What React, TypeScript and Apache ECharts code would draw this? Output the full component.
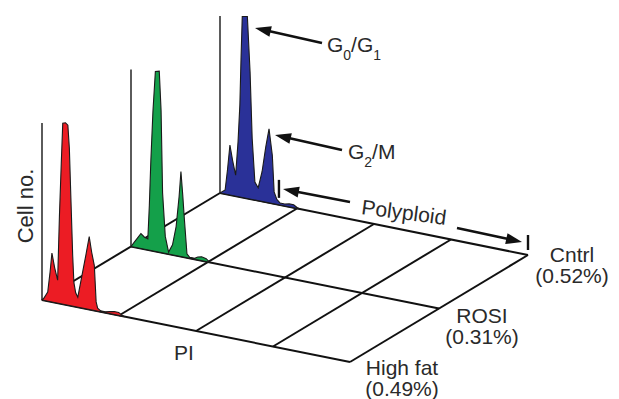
import { useEffect, useRef } from "react";
import * as echarts from "echarts";

// ---- data ----
const PI_MAX = 1024;
const PI_GRID = [0, 256, 512, 768, 1024];
const COUNT_MAX = 180;
const AXIS_TOP = 177;
const SAMPLE_NAMES = ["High fat", "ROSI", "Cntrl"];
const SAMPLE_PCT = ["(0.49%)", "(0.31%)", "(0.52%)"];
const SAMPLE_COLORS = ["#ec1c24", "#14a04a", "#2a3198"];
const POLY_GATE = [196, 1024];

// [PI channel, cell count]
const highFat: [number, number][] = [
  [0, 0], [6, 2], [19, 9], [27, 30], [33, 49], [42, 35], [52, 23], [58, 88], [64, 140],
  [69, 181], [78, 182], [86, 180], [91, 157], [96, 108], [102, 51], [106, 24], [112, 14],
  [119, 10], [135, 36], [146, 54], [157, 73], [165, 58], [174, 45], [180, 9], [185, 3],
  [195, 1], [210, 1], [225, 2], [240, 3], [255, 3], [265, 1], [275, 0],
];
const rosi: [number, number][] = [
  [0, 0], [11, 5], [22, 10], [33, 15], [45, 12], [56, 11], [61, 45], [66, 90], [73, 140],
  [81, 180], [94, 181], [100, 142], [105, 60], [114, 17], [125, 2], [138, 10], [150, 29],
  [160, 60], [166, 85], [172, 62], [177, 40], [186, 4], [195, 1], [212, 1], [222, 3],
  [235, 4], [250, 3], [262, 0],
];
const cntrl: [number, number][] = [
  [0, 0], [17, 4], [25, 25], [33, 50], [42, 35], [52, 21], [60, 55], [66, 92], [70, 140],
  [74, 181], [91, 182], [100, 127], [107, 61], [116, 18], [127, 13], [140, 30], [152, 55],
  [163, 74], [174, 48], [180, 12], [189, 5], [200, 2], [215, 2], [230, 3], [245, 3],
  [256, 1], [265, 0],
];
const HISTS = [highFat, rosi, cntrl];

// ---- oblique projection parameters ----
const DEPTH_DX = 89;
const DEPTH_DY = -53.5;
const SHEAR = 62;

const FONT = "'Liberation Sans', Arial, Helvetica, sans-serif";
const TEXT_COLOR = "#2a2a2a";

function project(api: any, ch: number, count: number, depth: number): number[] {
  const p = api.coord([ch, count]);
  return [p[0] + depth * DEPTH_DX, p[1] + (ch / PI_MAX) * SHEAR + depth * DEPTH_DY];
}

function arrow(tip: number[], tail: number[]) {
  const dx = tail[0] - tip[0];
  const dy = tail[1] - tip[1];
  const L = Math.hypot(dx, dy);
  const ux = dx / L;
  const uy = dy / L;
  const hl = 16;
  const hw = 5.5;
  const bx = tip[0] + ux * hl;
  const by = tip[1] + uy * hl;
  return [
    {
      type: "line",
      shape: { x1: bx - ux * 2, y1: by - uy * 2, x2: tail[0], y2: tail[1] },
      style: { stroke: "#111", lineWidth: 2.6 },
    },
    {
      type: "polygon",
      shape: { points: [tip, [bx - uy * hw, by + ux * hw], [bx + uy * hw, by - ux * hw]] },
      style: { fill: "#111" },
    },
  ];
}

function txt(
  text: string,
  x: number,
  y: number,
  size: number,
  align = "center",
  rotation = 0,
  lineHeight?: number
) {
  return {
    type: "text",
    x,
    y,
    rotation,
    style: {
      text,
      fill: TEXT_COLOR,
      font: `${size}px ${FONT}`,
      align,
      verticalAlign: "middle",
      lineHeight: lineHeight ?? size,
    },
  };
}

// label with subscripts: parts alternate main / subscript
function subLabel(main1: string, sub1: string, main2: string, sub2: string, x: number, yTop: number) {
  const rich = {
    a: { fontSize: 21, fontFamily: FONT, lineHeight: 22, verticalAlign: "top", fill: TEXT_COLOR },
    b: {
      fontSize: 14,
      fontFamily: FONT,
      lineHeight: 14,
      padding: [14, 0, 0, 0],
      verticalAlign: "top",
      fill: TEXT_COLOR,
    },
  };
  const text = `{a|${main1}}{b|${sub1}}{a|${main2}}` + (sub2 ? `{b|${sub2}}` : "");
  return {
    type: "text",
    x,
    y: yTop,
    style: { text, rich, align: "left", verticalAlign: "top", fill: TEXT_COLOR },
  };
}

export default function App() {
  const ref = useRef<HTMLDivElement>(null);

  useEffect(() => {
    document.body.style.margin = "0";
    if (!ref.current) return;
    const chart = echarts.init(ref.current, undefined, { renderer: "svg" });

    const floorLines: { kind: string; v: number }[] = [
      ...[0, 1, 2].map((d) => ({ kind: "row", v: d })),
      ...PI_GRID.map((c) => ({ kind: "col", v: c })),
    ];
    const histOrder = [2, 1, 0];

    chart.setOption({
      animation: false,
      grid: { left: 42, top: 120, width: 308, height: 180 },
      xAxis: { type: "value", min: 0, max: PI_MAX, show: false },
      yAxis: { type: "value", min: 0, max: COUNT_MAX, show: false },
      series: [
        {
          type: "custom",
          name: "floor",
          coordinateSystem: "cartesian2d",
          clip: false,
          silent: true,
          data: floorLines.map(() => [0, 0]),
          renderItem: (params: any, api: any) => {
            const f = floorLines[params.dataIndex];
            let a: number[];
            let b: number[];
            if (f.kind === "row") {
              a = project(api, 0, 0, f.v);
              b = project(api, PI_MAX, 0, f.v);
            } else {
              a = project(api, f.v, 0, 0);
              b = project(api, f.v, 0, 2);
            }
            return {
              type: "line",
              shape: { x1: a[0], y1: a[1], x2: b[0], y2: b[1] },
              style: { stroke: "#111", lineWidth: 2 },
            };
          },
        },
        {
          type: "custom",
          name: "histograms",
          coordinateSystem: "cartesian2d",
          clip: false,
          silent: true,
          data: histOrder.map(() => [0, 0]),
          renderItem: (params: any, api: any) => {
            const depth = histOrder[params.dataIndex];
            const hist = HISTS[depth];
            const pts = hist.map(([c, n]) => project(api, c, n, depth));
            const a0 = project(api, 0, 0, depth);
            const a1 = project(api, 0, AXIS_TOP, depth);
            const children: any[] = [
              {
                type: "line",
                shape: { x1: a0[0], y1: a0[1], x2: a1[0], y2: a1[1] },
                style: { stroke: "#333", lineWidth: 1.6 },
              },
              {
                type: "polygon",
                shape: { points: pts },
                style: { fill: SAMPLE_COLORS[depth], stroke: "#1a1a1a", lineWidth: 1.1 },
              },
            ];
            if (depth === 2) {
              const g0a = project(api, POLY_GATE[0], 7, depth);
              const g0b = project(api, POLY_GATE[0], 25, depth);
              const g1a = project(api, POLY_GATE[1], 5, depth);
              const g1b = project(api, POLY_GATE[1], 20, depth);
              children.push(
                {
                  type: "line",
                  shape: { x1: g0a[0], y1: g0a[1], x2: g0b[0], y2: g0b[1] },
                  style: { stroke: "#111", lineWidth: 2.4 },
                },
                {
                  type: "line",
                  shape: { x1: g1a[0], y1: g1a[1], x2: g1b[0], y2: g1b[1] },
                  style: { stroke: "#111", lineWidth: 2.4 },
                }
              );
            }
            return { type: "group", children };
          },
        },
      ],
      graphic: [
        ...arrow([255, 28], [322, 43]),
        ...arrow([275, 135], [342, 150]),
        ...arrow([283, 189], [350, 202]),
        ...arrow([522, 242], [457, 228]),
        subLabel("G", "0", "/G", "1", 327, 34),
        subLabel("G", "2", "/M", "", 348, 141),
        txt("Polyploid", 404, 212, 21, "center", -0.13),
        txt("Cell no.", 25, 206, 22, "center", Math.PI / 2),
        txt("PI", 184, 352, 21),
        txt(`${SAMPLE_NAMES[2]}\n${SAMPLE_PCT[2]}`, 572, 265, 21, "center", 0, 21),
        txt(`${SAMPLE_NAMES[1]}\n${SAMPLE_PCT[1]}`, 482, 325.5, 21, "center", 0, 21),
        txt(`${SAMPLE_NAMES[0]}\n${SAMPLE_PCT[0]}`, 402, 378, 21, "center", 0, 21),
      ],
    });

    return () => chart.dispose();
  }, []);

  return <div ref={ref} style={{ width: 619, height: 399 }} />;
}
